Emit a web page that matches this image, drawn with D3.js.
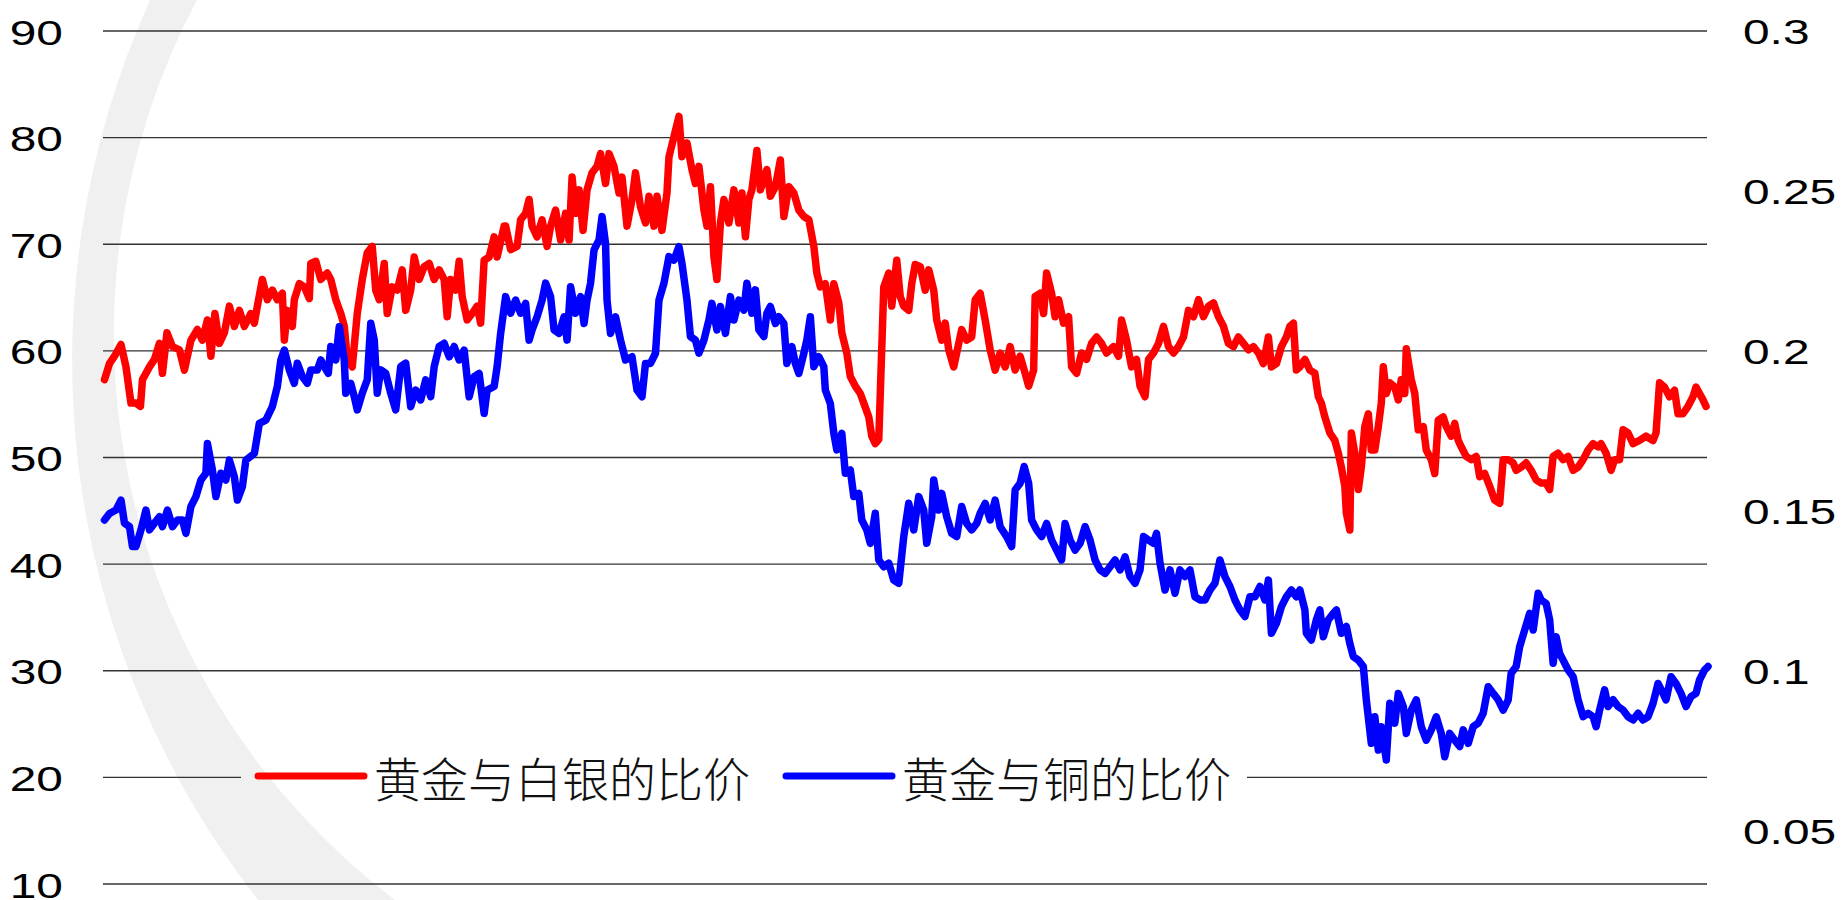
<!DOCTYPE html>
<html>
<head>
<meta charset="utf-8">
<script src="https://cdn.jsdelivr.net/npm/d3@7/dist/d3.min.js"></script>
<style>
  html, body { margin: 0; padding: 0; background: #fff; }
  svg { display: block; }
</style>
</head>
<body>
<svg id="ratio_chart" width="1842" height="900"></svg>
<script>
// ---------- data (x = trading day index) ----------
const silverDays = [3,13,23,36,46,56,66,75,79,93,103,113,119,128,139,153,163,176,189,199,209,216,224,233,243,253,263,273,283,296,303,309,319,329,339,349,359,363,369,379,383,393,403,413,416,426,436,449,456,466,476,483,489,499,509,519,529,539,546,553,563,569,579,589,599,606,616,623,633,643,653,663,673,683,689,696,706,713,719,729,739,749,756,763,773,783,789,803,
  806,816,829,836,846,853,859,869,879,889,896,906,916,926,933,939,946,953,961,969,979,989,996,1006,1013,1023,1033,1039,1049,1059,1066,1076,1086,1093,1103,1109,1119,1129,1133,1143,1153,1159,1169,1179,1186,1193,1203,1209,1216,1223,1229,1236,1243,1253,1263,1273,1279,1286,1293,1299,1309,1316,1329,1336,1346,1356,1363,1373,1383,1393,1403,1413,1423,1429,1436,1446,1456,1463,1473,1479,1489,1496,1506,1516,1523,1533,1539,1546,1553,1556,1563,1573,1579,1589,
  1596,1603,1613,1619,1626,1636,1646,1653,1663,1669,1679,1686,1693,1703,1713,1719,1729,1739,1746,1756,1766,1776,1786,1796,1806,1816,1826,1836,1846,1853,1863,1866,1876,1883,1889,1899,1906,1913,1923,1933,1939,1949,1959,1969,1979,1989,1999,2009,2023,2033,2039,2049,2059,2069,2076,2086,2093,2103,2113,2123,2133,2143,2153,2163,2173,2183,2193,2203,2213,2223,2233,2243,2253,2263,2273,2283,2293,2303,2313,2323,2333,2339,2349,2359,2369,2376,2383,2389,
  2396,2406,2416,2426,2433,2439,2446,2456,2466,2473,2479,2486,2489,2496,2499,2506,2513,2519,2526,2533,2539,2546,2553,2559,2563,2569,2576,2586,2593,2599,2606,2609,2619,2626,2633,2643,2649,2659,2666,2673,2683,2689,2699,2706,2713,2719,2729,2739,2749,2756,2766,2776,2786,2796,2803,2813,2823,2829,2839,2849,2859,2869,2879,2889,2896,2903,2913,2923,2933,2943,2953,2963,2973,2983,2993,2999,3009,3019,3026,3036,3043,3053,3063,3076,3089,3103,3109,3116,3126,3136,3146,3153,3163,3173,3183,3189,3196,3203,3209];
const silverRatio = [57.3,58.8,59.5,60.6,58.5,55.1,55.1,54.8,57.3,58.5,59.2,60.7,57.9,61.7,60.4,60.1,58.2,61.0,62.0,61.0,62.9,59.5,63.5,60.7,61.7,64.2,62.3,63.8,62.3,63.5,62.6,64.2,66.7,64.8,65.7,64.8,65.4,61.0,63.8,62.3,64.8,66.3,66.0,64.9,68.2,68.4,66.7,67.3,66.7,64.8,63.5,62.3,59.2,58.5,63.5,66.7,69.2,69.8,65.7,64.8,68.2,63.5,66.0,65.7,67.6,63.8,65.7,68.8,66.7,67.9,68.2,66.7,67.6,66.7,63.2,66.7,65.7,68.4,65.1,62.9,63.5,64.2,62.6,68.5,68.8,70.7,68.8,71.7,
  71.7,69.5,69.8,72.3,72.9,74.2,71.7,70.7,72.3,69.8,71.7,73.2,70.4,72.9,70.4,76.3,72.9,75.1,71.3,75.1,76.7,77.3,78.5,75.7,78.5,77.3,74.8,76.3,71.7,74.2,76.7,73.5,72.0,74.5,71.7,74.5,71.3,74.8,78.2,80.1,82.0,78.2,79.5,77.0,75.7,77.3,73.2,71.7,75.4,68.8,66.7,72.0,74.2,72.0,75.1,72.0,74.8,70.7,74.2,75.1,78.8,75.1,77.0,74.5,75.4,77.9,72.6,75.4,74.8,73.2,72.6,72.3,69.8,67.3,66.0,66.3,62.9,66.3,64.5,61.7,59.8,57.6,56.7,56.0,55.1,53.8,52.0,51.3,51.7,56.0,66.0,67.3,64.2,68.5,
  65.1,64.2,63.8,66.3,68.1,67.9,65.7,67.6,65.7,62.9,61.0,62.6,60.1,58.5,60.7,62.0,61.0,61.3,64.8,65.4,62.9,60.1,58.2,59.8,58.5,60.4,58.2,59.5,57.9,56.7,58.2,65.1,65.4,63.5,67.3,65.4,63.2,64.8,62.6,63.2,58.5,57.9,59.8,59.2,60.7,61.3,60.7,59.8,60.4,59.5,62.9,61.0,58.5,59.2,56.7,55.7,59.2,59.8,60.7,62.3,60.4,59.8,60.4,61.3,63.8,63.2,64.8,63.2,64.2,64.5,63.2,62.3,60.7,60.4,61.3,60.7,60.1,60.4,59.8,58.8,61.3,58.5,58.8,60.4,61.3,62.3,62.6,58.2,
  58.5,59.2,58.2,57.9,55.7,55.1,53.8,52.3,51.6,50.4,49.1,47.3,44.8,43.2,52.3,50.4,47.0,49.1,52.9,54.1,50.7,50.7,52.9,55.1,58.5,56.0,57.0,56.6,55.4,57.3,56.0,60.2,57.3,56.0,52.6,52.9,50.7,49.8,48.5,53.5,53.8,52.9,52.0,53.2,51.6,51.0,50.1,49.8,50.1,48.2,48.5,47.3,46.0,45.7,49.8,49.8,49.5,48.8,49.1,49.5,48.8,47.9,47.6,47.6,47.0,50.1,50.4,49.8,50.1,48.8,49.1,49.8,50.7,51.3,51.0,51.3,50.4,48.8,49.8,49.8,52.6,52.3,51.3,51.6,52.0,51.6,52.3,57.0,56.6,55.7,56.3,54.1,54.1,54.8,55.7,56.6,56.0,55.4,54.8];

const copperDays = [3,13,26,36,43,53,59,66,76,86,93,103,113,119,129,139,149,159,166,176,186,196,206,209,219,226,236,246,253,263,269,279,286,303,313,326,339,349,356,363,373,383,389,399,409,416,429,436,443,451,456,466,473,483,486,496,503,509,519,529,536,543,549,556,566,576,586,596,606,616,626,636,646,656,663,673,683,693,703,713,723,733,743,753,763,769,783,789,796,
  806,816,826,836,846,853,859,869,879,886,896,903,913,923,929,936,946,956,963,969,976,983,993,999,1006,1009,1016,1026,1036,1046,1059,1069,1079,1086,1096,1106,1113,1123,1133,1143,1153,1159,1169,1176,1186,1193,1203,1213,1219,1229,1236,1246,1256,1263,1273,1283,1289,1299,1306,1313,1323,1329,1336,1346,1353,1363,1369,1379,1386,1393,1403,1409,1416,1423,1433,1443,1446,1456,1463,1469,1479,1486,1496,1503,1513,1519,1529,1536,1546,1553,1563,1573,1583,1593,
  1603,1613,1623,1633,1643,1649,1659,1663,1673,1679,1689,1699,1709,1719,1729,1739,1749,1756,1766,1776,1786,1796,1809,1819,1826,1836,1844,1853,1859,1869,1879,1889,1899,1909,1919,1926,1936,1946,1956,1966,1976,1986,1996,2006,2016,2026,2036,2046,2056,2066,2076,2083,2093,2103,2109,2116,2126,2136,2146,2156,2166,2176,2186,2196,2206,2216,2226,2236,2246,2256,2266,2276,2286,2296,2306,2316,2326,2333,2339,2349,2359,2369,2379,2389,
  2396,2406,2409,2419,2429,2436,2443,2453,2463,2469,2479,2489,2496,2503,2513,2523,2529,2539,2546,2553,2559,2569,2576,2586,2593,2603,2609,2619,2629,2639,2649,2659,2669,2679,2686,2696,2706,2716,2723,2733,2743,2753,2763,2773,2783,2793,2803,2813,2819,2829,2836,2846,2856,2863,2873,2879,2889,2896,2903,2909,2916,2923,2933,2943,2953,2963,2973,2983,2989,2996,3006,3013,3023,3033,3043,3053,3063,3073,3083,3093,3103,3113,3123,3129,3139,3149,3159,3169,3179,3189,3196,3206,3213];
const copperRatio = [.1472,.1492,.1503,.1534,.1462,.1451,.1389,.1389,.1441,.1503,.1441,.1462,.1482,.1451,.1503,.1451,.1472,.1472,.1430,.1514,.1545,.1597,.1618,.1711,.1628,.1545,.1618,.1597,.1659,.1607,.1534,.1576,.1659,.1680,.1774,.1784,.1826,.1889,.1972,.2003,.1941,.1899,.1962,.1920,.1899,.1941,.1941,.1972,.1951,.1930,.2014,.1972,.2076,.1972,.1868,.1899,.1857,.1816,.1868,.1910,.2087,.2034,.1868,.1941,.1930,.1868,.1816,.1951,.1962,.1826,.1878,.1847,.1910,.1857,.1951,.2014,.2024,.1982,.2014,.1972,.2003,.1857,.1920,.1930,.1805,.1878,.1889,.1951,.2055,
  .2170,.2118,.2159,.2118,.2149,.2034,.2066,.2107,.2159,.2212,.2170,.2066,.2055,.2107,.2034,.2201,.2118,.2170,.2086,.2159,.2212,.2316,.2347,.2420,.2336,.2159,.2055,.2107,.2034,.1972,.1982,.1878,.1857,.1961,.1961,.1993,.2159,.2212,.2295,.2284,.2326,.2274,.2159,.2045,.2034,.1993,.2034,.2097,.2149,.2066,.2139,.2055,.2170,.2097,.2159,.2128,.2212,.2118,.2191,.2066,.2045,.2118,.2139,.2086,.2107,.2086,.1961,.2014,.1961,.1930,.1993,.2034,.2107,.1951,.1982,.1951,.1878,.1836,.1743,.1691,.1743,.1618,.1628,.1545,.1555,.1472,.1441,.1399,.1493,.1347,.1326,.1337,.1284,.1274,
  .1420,.1524,.1441,.1545,.1503,.1399,.1482,.1597,.1503,.1555,.1482,.1430,.1420,.1514,.1461,.1441,.1461,.1493,.1524,.1472,.1534,.1451,.1420,.1389,.1566,.1587,.1639,.1587,.1472,.1441,.1420,.1461,.1409,.1378,.1347,.1461,.1409,.1378,.1399,.1451,.1409,.1347,.1316,.1305,.1326,.1347,.1316,.1357,.1295,.1274,.1316,.1420,.1409,.1399,.1430,.1337,.1253,.1316,.1243,.1316,.1295,.1316,.1232,.1222,.1222,.1253,.1274,.1347,.1295,.1264,.1222,.1191,.1170,.1232,.1232,.1264,.1222,.1284,.1118,.1149,.1201,.1232,.1253,.1232,
  .1253,.1191,.1118,.1097,.1160,.1191,.1107,.1160,.1180,.1191,.1118,.1139,.1086,.1045,.1034,.1014,.0910,.0774,.0857,.0753,.0826,.0722,.0899,.0837,.0930,.0889,.0805,.0878,.0910,.0826,.0784,.0816,.0857,.0805,.0732,.0805,.0784,.0764,.0816,.0774,.0826,.0837,.0868,.0951,.0930,.0910,.0878,.0910,.0993,.1014,.1076,.1128,.1180,.1128,.1243,.1222,.1211,.1160,.1024,.1107,.1055,.1034,.1003,.0982,.0910,.0857,.0868,.0857,.0826,.0878,.0941,.0889,.0910,.0889,.0878,.0857,.0847,.0868,.0847,.0857,.0899,.0961,.0930,.0910,.0982,.0961,.0930,.0889,.0920,.0930,.0972,.1003,.1014];

const leftTicks = [10, 20, 30, 40, 50, 60, 70, 80, 90];
const rightTicks = [0.05, 0.1, 0.15, 0.2, 0.25, 0.3];
const seriesNames = ['黄金与白银的比价', '黄金与铜的比价'];
const seriesColors = ['#ff0000', '#0000ff'];

// ---------- chart ----------
const ratioChart = {
  option: {
    plot: {left: 103, right: 1708, top: 31, bottom: 884},
    lineWidth: 7.5,
    gridColor: '#333',
    tickFont: '"Liberation Sans", Arial, sans-serif',
    legendFont: '"Noto Sans CJK SC", sans-serif'
  }
};

function translate(x, y) {
  return `translate(${x}, ${y})`;
}

ratioChart.init = function(chartId) {
  const opt = ratioChart.option;
  const plot = opt.plot;
  const svg = d3.select(`#${chartId}`);
  ratioChart.svg = svg;

  ratioChart.xScale = d3.scaleLinear().domain([0, 3213]).range([plot.left, plot.right]);
  ratioChart.yLeft = d3.scaleLinear().domain([10, 90]).range([plot.bottom, plot.top]);
  ratioChart.yRight = d3.scaleLinear().domain([0.1, 0.3]).range([671, plot.top]);

  // Background swoosh (decoration only): band between two circle arcs
  svg.append('path')
    .attr('d', 'M150,0 A875,875 0 0 0 258,900 L395,900 A711,711 0 0 1 197,0 Z')
    .attr('fill', '#f0f0f0');

  // Mask so the legend interrupts the grid line it sits on
  const mask = svg.append('defs').append('mask').attr('id', 'legend-gap');
  mask.append('rect').attr('width', 1842).attr('height', 900).attr('fill', '#fff');
  mask.append('rect').attr('x', 241).attr('y', 762).attr('width', 1006).attr('height', 30).attr('fill', '#000');

  svg.append('g')
    .attr('class', 'grid')
    .attr('mask', 'url(#legend-gap)')
    .selectAll('line')
    .data(leftTicks)
    .enter()
    .append('line')
      .attr('x1', plot.left)
      .attr('x2', plot.right - 1)
      .attr('y1', d => ratioChart.yLeft(d))
      .attr('y2', d => ratioChart.yLeft(d))
      .attr('stroke', opt.gridColor)
      .attr('stroke-width', 1.3);

  // Left axis labels
  const leftAxis = svg.append('g')
    .attr('class', 'y-left axis')
    .attr('transform', translate(63, 0))
    .call(d3.axisLeft(ratioChart.yLeft).tickValues(leftTicks).tickSize(0).tickPadding(0));
  leftAxis.select('.domain').remove();
  leftAxis.selectAll('text')
    .attr('x', null).attr('dy', null)
    .attr('transform', 'translate(0, 13) scale(1.33, 1)')
    .style('font-family', opt.tickFont).style('font-size', '36px').attr('fill', '#000');

  // Right axis labels
  const rightAxis = svg.append('g')
    .attr('class', 'y-right axis')
    .attr('transform', translate(1743, 0))
    .call(d3.axisRight(ratioChart.yRight).tickValues(rightTicks).tickSize(0).tickPadding(0).tickFormat(d => String(d)));
  rightAxis.select('.domain').remove();
  rightAxis.selectAll('text')
    .attr('x', null).attr('dy', null)
    .attr('transform', 'translate(0, 12) scale(1.33, 1)')
    .style('font-family', opt.tickFont).style('font-size', '36px').attr('fill', '#000');
};

ratioChart.drawLines = function() {
  const opt = ratioChart.option;
  const series = [
    {name: seriesNames[0], color: seriesColors[0], y: ratioChart.yLeft,
      values: silverDays.map((d, i) => ({x: d, y: silverRatio[i]}))},
    {name: seriesNames[1], color: seriesColors[1], y: ratioChart.yRight,
      values: copperDays.map((d, i) => ({x: d, y: copperRatio[i]}))}
  ];

  ratioChart.svg.selectAll('.line')
    .data(series)
    .enter()
    .append('path')
      .attr('class', 'line')
      .attr('d', s => d3.line().x(p => ratioChart.xScale(p.x)).y(p => s.y(p.y))(s.values))
      .attr('fill', 'none')
      .attr('stroke', s => s.color)
      .attr('stroke-width', opt.lineWidth)
      .attr('stroke-linejoin', 'round')
      .attr('stroke-linecap', 'round');
};

ratioChart.drawLegend = function() {
  const opt = ratioChart.option;
  const items = [
    {name: seriesNames[0], color: seriesColors[0], x: 258},
    {name: seriesNames[1], color: seriesColors[1], x: 786}
  ];
  const legend = ratioChart.svg.append('g').attr('class', 'legend');
  const item = legend.selectAll('g').data(items).enter().append('g')
    .attr('transform', d => translate(d.x, 776));
  item.append('line')
    .attr('x1', 0).attr('x2', 106)
    .attr('stroke', d => d.color)
    .attr('stroke-width', 7)
    .attr('stroke-linecap', 'round');
  item.append('text')
    .attr('x', 116)
    .attr('dominant-baseline', 'central')
    .style('font-family', opt.legendFont)
    .style('font-size', '47px')
    .style('font-weight', 300)
    .attr('fill', '#111')
    .text(d => d.name);
};

ratioChart.init('ratio_chart');
ratioChart.drawLines();
ratioChart.drawLegend();
</script>
</body>
</html>
